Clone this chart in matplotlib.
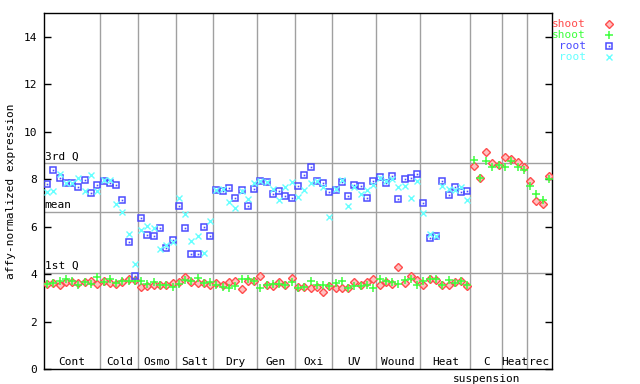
import numpy as np
import matplotlib
matplotlib.use("Agg")
import matplotlib.pyplot as plt
from matplotlib.lines import Line2D

# ---------------- data ----------------
categories = ["Cont", "Cold", "Osmo", "Salt", "Dry", "Gen", "Oxi", "UV",
              "Wound", "Heat", "C suspension", "Heat", "rec"]
counts = [9, 6, 6, 6, 7, 6, 6, 7, 7, 8, 5, 4, 4]

shoot_red = [
    3.58, 3.64, 3.54, 3.68, 3.66, 3.61, 3.66, 3.71, 3.57,
    3.70, 3.64, 3.60, 3.66, 3.78, 3.75,
    3.45, 3.51, 3.56, 3.53, 3.53, 3.61,
    3.66, 3.87, 3.66, 3.61, 3.61, 3.56,
    3.61, 3.53, 3.66, 3.70, 3.36, 3.70, 3.70,
    3.91, 3.53, 3.49, 3.66, 3.53, 3.82,
    3.45, 3.45, 3.40, 3.47, 3.24, 3.49,
    3.40, 3.40, 3.40, 3.66, 3.53, 3.66, 3.78,
    3.53, 3.66, 3.57, 4.29, 3.61, 3.91, 3.74,
    3.53, 3.78, 3.74, 3.53, 3.53, 3.66, 3.70, 3.49,
    8.55, 8.04, 9.14, 8.67, 8.59,
    8.93, 8.84, 8.72, 8.51,
    7.92, 7.07, 6.95, 8.14,
]
shoot_green = [
    3.57, 3.64, 3.71, 3.78, 3.71, 3.54, 3.66, 3.57, 3.87,
    3.68, 3.81, 3.64, 3.72, 3.72, 3.71,
    3.70, 3.58, 3.68, 3.56, 3.53, 3.47,
    3.58, 3.75, 3.72, 3.84, 3.61, 3.66,
    3.53, 3.45, 3.40, 3.50, 3.78, 3.78, 3.70,
    3.40, 3.53, 3.57, 3.57, 3.53, 3.66,
    3.40, 3.45, 3.70, 3.53, 3.53, 3.49,
    3.61, 3.70, 3.40, 3.49, 3.49, 3.53, 3.40,
    3.78, 3.70, 3.66, 3.57, 3.74, 3.78, 3.53,
    3.70, 3.78, 3.78, 3.53, 3.74, 3.61, 3.70, 3.53,
    8.80, 8.04, 8.76, 8.51, 8.59,
    8.51, 8.76, 8.51, 8.38,
    7.70, 7.37, 7.11, 8.00,
]
nan = float("nan")
root_blue = [
    7.80, 8.38, 8.04, 7.83, 7.83, 7.66, 7.96, 7.41, 7.75,
    7.94, 7.83, 7.76, 7.11, 5.34, 3.91,
    6.35, 5.64, 5.60, 5.93, 5.09, 5.43,
    6.86, 5.93, 4.84, 4.84, 5.97, 5.60,
    7.54, 7.49, 7.62, 7.20, 7.54, 6.86, 7.58,
    7.94, 7.86, 7.37, 7.49, 7.28, 7.20,
    7.70, 8.17, 8.51, 7.92, 7.83, 7.45,
    7.54, 7.90, 7.28, 7.75, 7.70, 7.20, 7.92,
    8.08, 7.83, 8.12, 7.16, 8.00, 8.04, 8.21,
    6.99, 5.51, 5.60, 7.92, 7.32, 7.66, 7.45, 7.49,
    nan, nan, nan, nan, nan,
    nan, nan, nan, nan,
    nan, nan, nan, nan,
]
root_cyan = [
    7.46, 7.49, 8.21, 7.85, 7.83, 8.04, 7.49, 8.19, 7.52,
    7.97, 7.97, 6.95, 6.62, 5.68, 4.42,
    5.85, 6.02, 5.93, 5.06, 5.23, 5.37,
    7.20, 6.54, 5.40, 5.60, 4.88, 6.23,
    7.54, 7.58, 7.03, 6.78, 7.48, 7.16, 7.83,
    7.92, 7.86, 7.58, 7.11, 7.66, 7.87,
    7.24, 7.54, 7.83, 7.92, 7.66, 6.40,
    7.58, 7.96, 6.86, 7.66, 7.37, 7.54, 7.75,
    8.04, 7.92, 8.00, 7.66, 7.70, 7.20, 7.92,
    6.57, 5.68, 5.60, 7.70, 7.58, 7.54, 7.66, 7.11,
    nan, nan, nan, nan, nan,
    nan, nan, nan, nan,
    nan, nan, nan, nan,
]
ref_labels = ["3rd Q", "mean", "1st Q"]
ref_values = [8.67, 6.61, 4.06]
yticks = [0, 2, 4, 6, 8, 10, 12, 14]

# ---------------- style ----------------
RED = "#ff4d4d"
GREEN = "#3cff3c"
BLUE = "#4c4cff"
CYAN = "#66ffff"
GRID = "#a0a0a0"
FONT = "DejaVu Sans Mono"
FS = 8

fig = plt.figure(figsize=(6.4, 3.84), dpi=100)
W, H = 640, 384
AX_L, AX_R, AX_T, AX_B = 44, 552, 13, 369
ax = fig.add_axes([AX_L / W, 1 - AX_B / H, (AX_R - AX_L) / W, (AX_B - AX_T) / H])

n = len(shoot_red)
x = np.arange(n) + 0.5
ax.set_xlim(0, n)
ax.set_ylim(0, 15)

# reference lines
for v in ref_values:
    ax.axhline(v, color=GRID, lw=1, zorder=1)
bounds = np.cumsum(counts)
for b in bounds[:-1]:
    ax.axvline(b, color=GRID, lw=1, zorder=1)

# series
ax.plot(x, shoot_red, linestyle="none", marker="D", ms=4.0, mfc="#ffc0c0",
        mec=RED, mew=1.0, zorder=3)
ax.plot(x, shoot_green, linestyle="none", marker="+", ms=6, mec=GREEN,
        mew=1.1, zorder=4)
ax.plot(x, root_blue, linestyle="none", marker="s", ms=4.4, mfc="none",
        mec=BLUE, mew=1.1, zorder=5)
ax.plot(x, root_blue, linestyle="none", marker="s", ms=1.2, mfc=BLUE,
        mec=BLUE, mew=0, zorder=5)
ax.plot(x, root_cyan, linestyle="none", marker="x", ms=4.6, mec=CYAN,
        mew=1.0, zorder=6)

# axes styling
ax.set_xticks([])
ax.set_yticks(yticks)
ax.set_yticklabels([str(t) for t in yticks], fontfamily=FONT, fontsize=FS)
ax.tick_params(axis="y", direction="in", length=5, width=1, right=True,
               pad=5)
for s in ax.spines.values():
    s.set_linewidth(1)
ax.set_ylabel("affy-normalized expression", fontfamily=FONT, fontsize=FS)
ax.yaxis.set_label_coords((16 - AX_L) / (AX_R - AX_L), 0.5)

# reference labels
for lab, v in zip(ref_labels, ref_values):
    ax.text(0.1, v + 0.07, lab, fontfamily=FONT, fontsize=FS,
            ha="left", va="bottom", zorder=7)

# category labels
starts = np.concatenate([[0], bounds[:-1]])
for lab, s0, c in zip(categories, starts, counts):
    xc = s0 + c / 2
    parts = lab.split(" ")
    ax.text(xc, 0.08, parts[0], fontfamily=FONT, fontsize=FS,
            ha="center", va="bottom")
    if len(parts) > 1:
        ax.text(xc, -0.2, " ".join(parts[1:]), fontfamily=FONT,
                fontsize=FS, ha="center", va="top", clip_on=False)

# legend (drawn manually to mimic layout)
leg = [("shoot", RED, dict(marker="D", ms=4.0, mfc="#ffc0c0", mec=RED, mew=1.0)),
       ("shoot", GREEN, dict(marker="+", ms=6, mec=GREEN, mew=1.1)),
       ("root", BLUE, dict(marker="s", ms=4.4, mfc="none", mec=BLUE, mew=1.1)),
       ("root", CYAN, dict(marker="x", ms=4.6, mec=CYAN, mew=1.0))]
for i, (lab, col, mk) in enumerate(leg):
    yy = 1 - (24 + 11 * i) / H
    fig.text(586 / W, yy, lab, color=col, fontfamily=FONT, fontsize=FS,
             ha="right", va="center")
    fig.add_artist(Line2D([609 / W], [yy], transform=fig.transFigure,
                          linestyle="none", **mk))
    if lab == "root" and col == BLUE:
        fig.add_artist(Line2D([609 / W], [yy], transform=fig.transFigure,
                              linestyle="none", marker="s", ms=1.2,
                              mfc=BLUE, mec=BLUE, mew=0))

fig.savefig("out.png", dpi=100)
